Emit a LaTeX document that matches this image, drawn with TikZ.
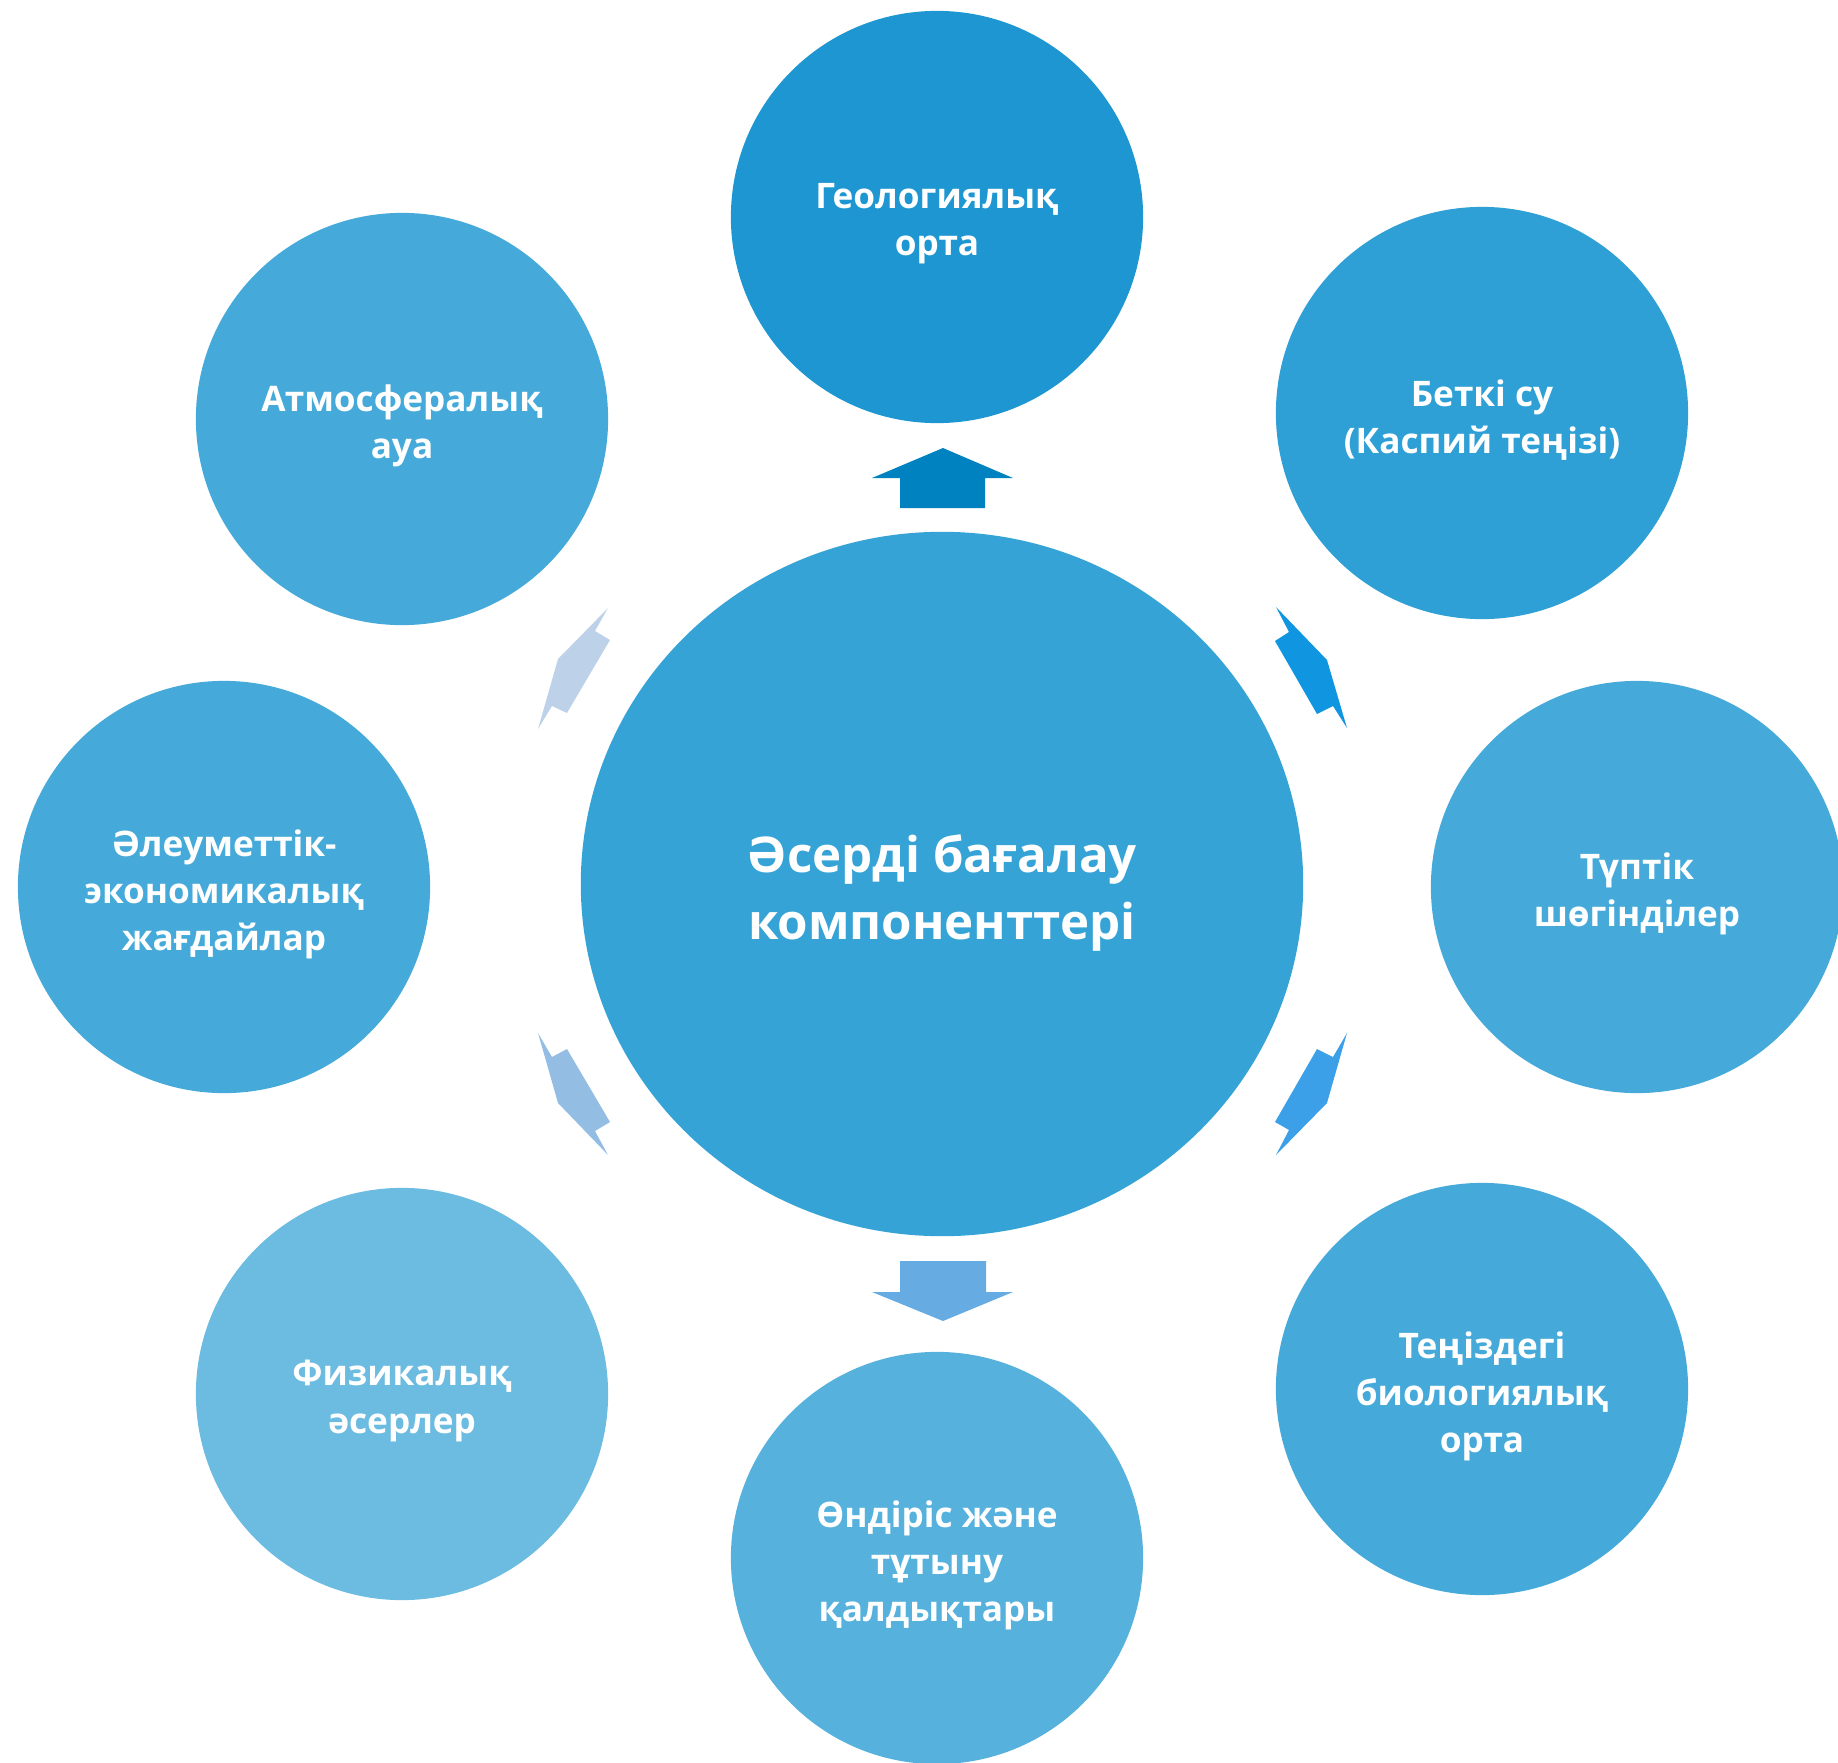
\documentclass[tikz,border=0pt]{standalone}
\usepackage{fontspec}
\setmainfont{Open Sans}
\usetikzlibrary{shapes.geometric,positioning}
\definecolor{HubBlue}{HTML}{36A3D6}
\definecolor{GeoBlue}{HTML}{1D96D1}
\definecolor{SurfBlue}{HTML}{2EA0D5}
\definecolor{MidBlue}{HTML}{45AAD9}
\definecolor{WasteBlue}{HTML}{56B1DD}
\definecolor{PhysBlue}{HTML}{6CBBE0}
\definecolor{ArrUp}{HTML}{0082C1}
\definecolor{ArrUR}{HTML}{1096E0}
\definecolor{ArrDR}{HTML}{3BA0E8}
\definecolor{ArrDn}{HTML}{66ACE2}
\definecolor{ArrDL}{HTML}{94BDE3}
\definecolor{ArrUL}{HTML}{BDD2E9}
\tikzset{
  % Text inside circles
  RT/.style={text=white,align=center,yshift=-0.07cm,
             font=\fontsize{10}{13.4}\selectfont\bfseries},
  HT/.style={text=white,align=center,yshift=-0.09cm,
             font=\fontsize{14}{18.8}\selectfont\bfseries},
  % Outer circle
  RC/.style={circle,minimum size=4.12cm,inner sep=0pt,
             label={[RT]center:{#1}}},
  % Hub
  HC/.style={ellipse,minimum width=7.22cm,minimum height=7.04cm,
             inner sep=0pt,fill=HubBlue,label={[HT]center:{#1}}},
  % Colour variants
  cG/.style={RC={#1},fill=GeoBlue},
  cS/.style={RC={#1},fill=SurfBlue},
  cM/.style={RC={#1},fill=MidBlue},
  cW/.style={RC={#1},fill=WasteBlue},
  cP/.style={RC={#1},fill=PhysBlue}
}
\begin{document}
\begin{tikzpicture}[x=0.01cm,y=-0.01cm]
  \useasboundingbox (0,0) rectangle (1838,1763);

  \node[HC={Әсерді бағалау\\компоненттері}] (hub) at (942,884) {};

  \node[cG={Геологиялық\\орта}]                  (geo)  at (937,217)   {};
  \node[cS={Беткі су\\(Каспий теңізі)}]          (surf) at (1482,413)  {};
  \node[cM={Түптік\\шөгінділер}]                 (sed)  at (1637,887)  {};
  \node[cM={Теңіздегі\\биологиялық\\орта}]       (bio)  at (1482,1389) {};
  \node[cW={Өндіріс және\\тұтыну\\қалдықтары}]   (wst)  at (937,1558)  {};
  \node[cP={Физикалық\\әсерлер}]                 (phy)  at (402,1394)  {};
  \node[cM={Әлеуметтік-\\экономикалық\\жағдайлар}] (soc) at (224,887)  {};
  \node[cM={Атмосфералық\\ауа}]                  (atm)  at (402,419)   {};

  % block arrows
  \fill[ArrUp] (943,448) -- (1013,478) -- (985,478) -- (985,508)
               -- (900,508) -- (900,478) -- (872,478) -- cycle;
  \fill[ArrDn] (900,1261) -- (986,1261) -- (986,1292) -- (1013,1292)
               -- (943,1321) -- (872,1292) -- (900,1292) -- cycle;
  \fill[ArrUR] (1276,607) -- (1327,660) -- (1347,728) -- (1333,706)
               -- (1317,714) -- (1275,641) -- (1289,632) -- cycle;
  \fill[ArrDR] (1347,1033) -- (1327,1103) -- (1276,1155) -- (1289,1130)
               -- (1275,1122) -- (1317,1049) -- (1333,1057) -- cycle;
  \fill[ArrDL] (538,1033) -- (552,1057) -- (567,1049) -- (610,1122)
               -- (595,1131) -- (608,1155) -- (558,1103) -- cycle;
  \fill[ArrUL] (608,608) -- (595,631) -- (610,640) -- (567,713)
               -- (552,706) -- (538,729) -- (558,659) -- cycle;
\end{tikzpicture}
\end{document}
